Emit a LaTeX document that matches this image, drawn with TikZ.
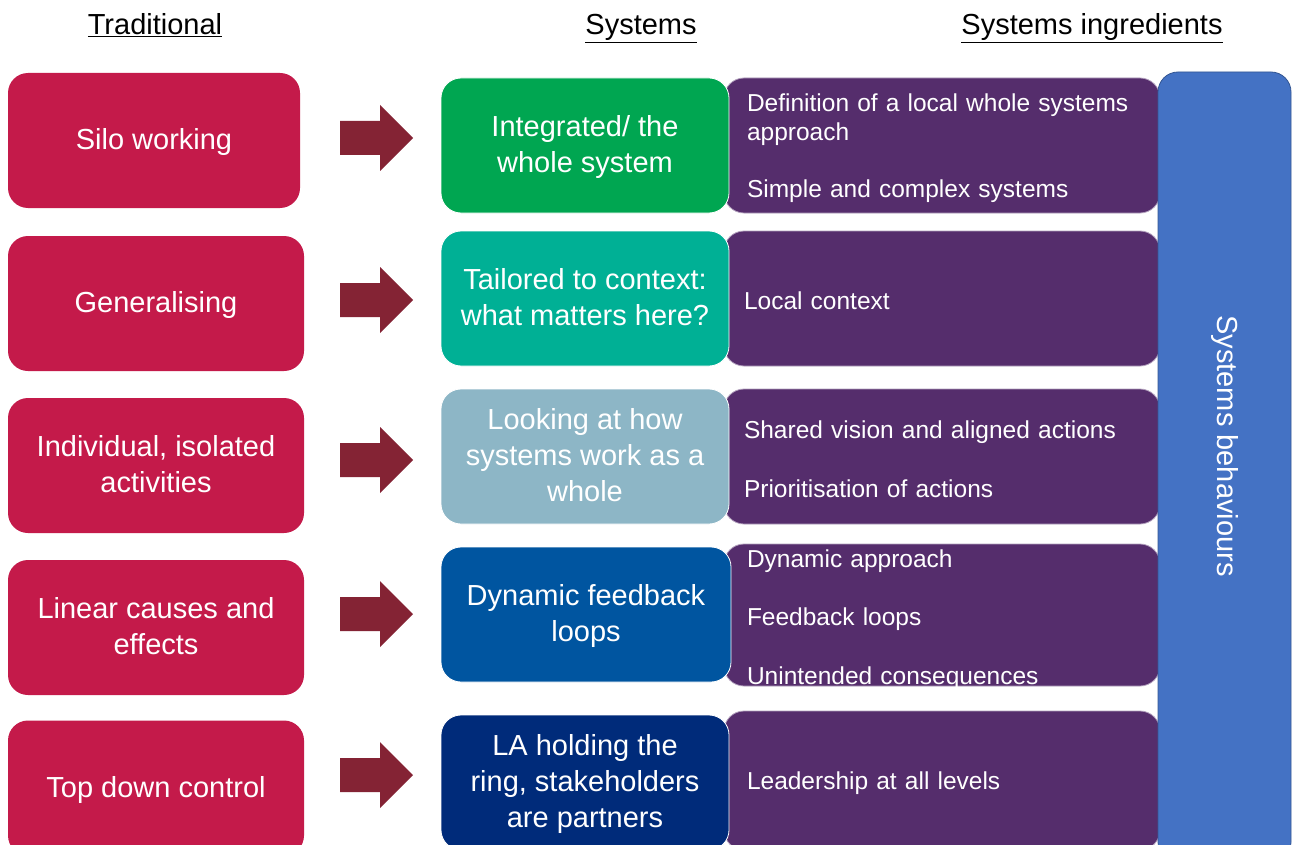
\documentclass[tikz,border=0pt]{standalone}
\usepackage{fontspec}
\setmainfont{Liberation Sans}
\definecolor{tradred}{RGB}{196,26,74}
\definecolor{arrowc}{RGB}{132,35,52}
\definecolor{sgreen}{RGB}{0,166,81}
\definecolor{steal}{RGB}{0,176,149}
\definecolor{sgrey}{RGB}{141,182,198}
\definecolor{sblue}{RGB}{0,85,160}
\definecolor{snavy}{RGB}{0,43,122}
\definecolor{ingpurple}{RGB}{85,45,108}
\definecolor{behblue}{RGB}{68,114,196}
\begin{document}
\begin{tikzpicture}[x=1pt,y=-1pt,
  bigfont/.style={font=\fontsize{29}{36}\selectfont},
  trad/.style={bigfont, fill=tradred, rounded corners=20pt, minimum width=296pt,
    minimum height=135pt, text=white, align=center, inner sep=0pt, text depth=3pt},
  sys/.style={bigfont, rounded corners=20pt, draw=white, line width=0.8pt,
    minimum width=288pt, minimum height=135pt, text=white, align=center, inner sep=0pt,
    text depth=3pt},
  ingrtext/.style={font=\fontsize{24.5}{29.4}\selectfont, text width=390pt,
    inner xsep=23pt, inner ysep=0pt, align=left, text=white, text height=23pt},
  ingr/.style={ingrtext, fill=ingpurple,
    draw=white!55!ingpurple, line width=0.8pt, rounded corners=20pt,
    minimum width=436pt, minimum height=135pt},
  blockarrow/.style={fill=arrowc},
  head/.style={bigfont, anchor=base}
]
\clip (0,0) rectangle (1292,845);
\fill[white] (0,0) rectangle (1292,845);

% Traditional column
\node[trad, minimum width=292pt] (t1) at (154,140.5) {Silo working};
\node[trad] (t2) at (156,303.5) {Generalising};
\node[trad] (t3) at (156,465.5) {Individual, isolated\\activities};
\node[trad] (t4) at (156,627.5) {Linear causes and\\effects};
\node[trad] (t5) at (156,788) {Top down control};

% Block arrows
\foreach \n/\yy in {1/138,2/300,3/460,4/614,5/775}{
  \coordinate (a\n) at (340,\yy);
  \fill[blockarrow, shift={(a\n)}] (0,-17) -- (40,-17) -- (40,-33) -- (73,0)
    -- (40,33) -- (40,17) -- (0,17) -- cycle;
}

% Ingredients column
\node[ingr, font=\fontsize{24.5}{28.6}\selectfont] (i1) at (942,145.5) {Definition of a local whole systems\\approach\\[28.6pt]Simple and complex systems};
\node[ingr, inner xsep=20pt, text width=396pt] (i2) at (942,298.5) {Local context};
\node[ingr, inner xsep=20pt, text width=396pt] (i3) at (942,456.5) {Shared vision and aligned actions\\[29.4pt]Prioritisation of actions};
\node[ingr, minimum height=142pt, text height=0pt] (i4) at (942,615) {};
\node[ingrtext, text height=27pt] (i4t) at (942,615) {Dynamic approach\\[29.4pt]Feedback loops\\[29.4pt]Unintended consequences};
\node[ingr, minimum height=139pt] (i5) at (942,780.5) {Leadership at all levels};

% Systems column
\node[sys, fill=sgreen] (s1) at (585,145.5) {Integrated/ the\\whole system};
\node[sys, fill=steal] (s2) at (585,298.5) {Tailored to context:\\what matters here?};
\node[sys, fill=sgrey] (s3) at (585,456.5) {Looking at how\\systems work as a\\whole};
\node[sys, fill=sblue, minimum width=290pt] (s4) at (586,614.5) {Dynamic feedback\\loops};
\node[sys, fill=snavy] (s5) at (585,782.5) {LA holding the\\ring, stakeholders\\are partners};

% Systems behaviours
\node[fill=behblue, draw=behblue!75!black, line width=0.8pt, rounded corners=20pt,
  minimum width=133pt, minimum height=790pt, inner sep=0pt] (sb) at (1224.5,467) {};
\node[bigfont, rotate=-90, text=white, inner sep=0pt] (sbt) at (1225,446) {Systems behaviours};

% Headers
\node[head] (h1) at (155,34.5) {\underline{Traditional}};
\node[head] (h2) at (641,34.5) {\underline{Systems}};
\node[head] (h3) at (1092,34.5) {\underline{Systems ingredients}};
\end{tikzpicture}
\end{document}
